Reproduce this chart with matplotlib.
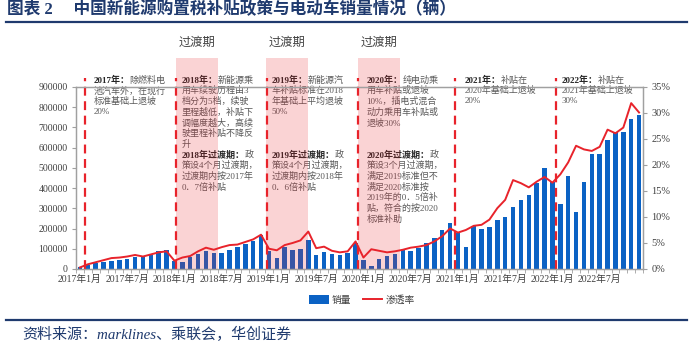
import matplotlib
matplotlib.use('Agg')
import matplotlib.pyplot as plt
import matplotlib.transforms as mtransforms
from matplotlib.patches import Rectangle, Patch
from matplotlib.lines import Line2D
from matplotlib.ticker import FuncFormatter, MultipleLocator

FONT = ['Liberation Serif', 'Noto Sans CJK SC', 'DejaVu Sans']
plt.rcParams['font.family'] = FONT

# ---------------- data ----------------
years = [2017, 2018, 2019, 2020, 2021, 2022]
months = [f"{y}年{m}月" for y in years for m in range(1, 13)]

sales = [
    9000, 20000, 28000, 33000, 42000, 45000, 48000, 58000, 62000, 70000, 90000, 95000,          # 2017
    40000, 35000, 57000, 73000, 87000, 78000, 77000, 93000, 108000, 122000, 138000, 168000,     # 2018
    90000, 53000, 110000, 95000, 100000, 142000, 70000, 83000, 75000, 70000, 79000, 131000,     # 2019
    46000, 15000, 51000, 65000, 75000, 95000, 91000, 106000, 128000, 153000, 191000, 227000,    # 2020
    177000, 111000, 211000, 197000, 207000, 244000, 257000, 307000, 343000, 368000, 426000, 498000,  # 2021
    430000, 321000, 460000, 282000, 428000, 568000, 568000, 638000, 675000, 679000, 741000, 764000,  # 2022
]
rate = [
    0.3, 0.9, 1.3, 1.7, 2.1, 2.2, 2.4, 2.7, 2.4, 2.8, 3.2, 3.4,
    1.6, 2.2, 2.5, 3.4, 4.1, 3.7, 4.2, 4.6, 4.7, 5.2, 5.7, 6.6,
    3.9, 3.6, 4.6, 5.0, 5.5, 7.2, 4.0, 4.3, 3.5, 3.2, 3.4, 5.3,
    2.2, 3.8, 3.5, 3.2, 3.4, 3.7, 4.1, 4.3, 4.6, 5.3, 6.3, 7.8,
    7.0, 7.5, 8.3, 8.5, 9.5, 11.7, 13.3, 17.1, 16.5, 15.7, 16.8, 17.7,
    16.6, 18.2, 20.5, 23.7, 23.0, 22.7, 23.5, 26.8, 26.1, 27.2, 31.9, 30.1,
]
tick_idx = [0, 6, 12, 18, 24, 30, 36, 42, 48, 54, 60, 66]

# policy divider positions (category units) and transition bands
dividers = [0.65, 12.17, 23.72, 35.35, 47.63, 60.46]
bands = [(12.17, 17.5), (23.63, 29.0), (35.35, 40.65)]
band_label = "过渡期"

notes = [
    (93.3, [[("2017年：", True), ("除燃料电", False)], "池汽车外，在现行", "标准基础上退坡", "20%"]),
    (181.7, [[("2018年：", True), ("新能源乘", False)], "用车续驶历程由3", "档分为5档，续驶",
             "里程越低，补贴下", "调幅度越大，高续", "驶里程补贴不降反", "升",
             [("2018年过渡期：", True), ("政", False)], "策设4个月过渡期，", "过渡期内按2017年", "0．7倍补贴"]),
    (271.7, [[("2019年：", True), ("新能源汽", False)], "车补贴标准在2018", "年基础上平均退坡", "50%",
             "", "", "",
             [("2019年过渡期：", True), ("政", False)], "策设4个月过渡期，", "过渡期内按2018年", "0．6倍补贴"]),
    (366.7, [[("2020年：", True), ("纯电动乘", False)], "用车补贴或退坡", "10%，插电式混合",
             "动力乘用车补贴或", "退坡30%", "", "",
             [("2020年过渡期：", True), ("政", False)], "策设3个月过渡期，", "满足2019标准但不",
             "满足2020标准按", "2019年的0．5倍补", "贴，符合的按2020", "标准补助"]),
    (464.5, [[("2021年：", True), ("补贴在", False)], "2020年基础上退坡", "20%"]),
    (561.7, [[("2022年：", True), ("补贴在", False)], "2021年基础上退坡", "30%"]),
]

title = "图表 2　 中国新能源购置税补贴政策与电动车销量情况（辆）"
source = "资料来源：marklines、乘联会，华创证券"
legend_labels = ['销量', '渗透率']

# ---------------- figure ----------------
W, H = 693, 344
fig = plt.figure(figsize=(W / 100, H / 100), dpi=100)
L, R, T, B = 76, 643, 87, 269
ax = fig.add_axes([L / W, 1 - B / H, (R - L) / W, (B - T) / H])
ax2 = ax.twinx()

BLUE = '#0B62C4'
RED = '#E8232B'
GRAY = '#A0A0A0'
TXT = '#404040'
NAVY = '#1F3A6E'

x = list(range(len(months)))
ax.bar(x, sales, width=0.56, color=BLUE, zorder=2)
ax.set_xlim(-0.5, len(months) - 0.5)
ax.set_ylim(0, 900000)
ax.yaxis.set_major_locator(MultipleLocator(100000))
ax.yaxis.set_major_formatter(FuncFormatter(lambda v, p: f"{int(v)}"))

ax2.plot(x, rate, color=RED, lw=1.4, zorder=5)
ax2.set_ylim(0, 35)
ax2.yaxis.set_major_locator(MultipleLocator(5))
ax2.yaxis.set_major_formatter(FuncFormatter(lambda v, p: f"{int(round(v))}%"))

for a in (ax, ax2):
    for s in a.spines.values():
        s.set_color(GRAY)
        s.set_linewidth(0.9)
ax.tick_params(axis='y', direction='out', length=3, color=GRAY, labelsize=7, labelcolor=TXT, pad=3)
ax2.tick_params(axis='y', direction='out', length=3, color=GRAY, labelsize=7.5, labelcolor=TXT, pad=3)

ax.set_xticks([i - 0.5 for i in range(len(months) + 1)], minor=True)
ax.set_xticks(tick_idx)
ax.set_xticklabels([months[i] for i in tick_idx])
ax.tick_params(axis='x', which='major', length=0, labelsize=7, labelcolor=TXT, pad=4)
ax.tick_params(axis='x', which='minor', length=3, color=GRAY, direction='out')

trans = mtransforms.blended_transform_factory(ax.transData, ax.transAxes)
band_top = (B - 57.7) / (B - T)
for (b0, b1) in bands:
    ax.add_patch(Rectangle((b0, 0), b1 - b0, band_top, transform=trans,
                           facecolor=RED, alpha=0.2, edgecolor='none', zorder=3, clip_on=False))
div_top = (B - 78) / (B - T)
for d in dividers:
    ax.add_line(Line2D([d, d], [0, div_top], transform=trans, color=RED, lw=1.6,
                       dashes=(4, 2.5), zorder=4, clip_on=False))

fig.canvas.draw()
# band labels
for (b0, b1) in bands:
    cx = ax.transData.transform(((b0 + b1) / 2, 0))[0]
    fig.text(cx / W, 1 - 43 / H, band_label, ha='center', va='center',
             fontsize=8.8, color=TXT)

# annotation text (drawn inside the bar axes, beneath the translucent bands)
renderer = fig.canvas.get_renderer()
PITCH = 10.7
for (x0, lines) in notes:
    for k, ln in enumerate(lines):
        if ln == "":
            continue
        parts = ln if isinstance(ln, list) else [(ln, False)]
        xx = x0
        yy = 1 - (80 + k * PITCH) / H
        for (txt, bold) in parts:
            t = ax.text(xx / W, yy, txt, ha='left', va='center', fontsize=6.5,
                        color='#262626' if bold else '#595959',
                        fontweight='bold' if bold else 'normal',
                        transform=fig.transFigure, zorder=2.5, clip_on=False)
            bb = t.get_window_extent(renderer)
            xx += bb.width

# legend
handles = [Patch(facecolor=BLUE, edgecolor='none', label=legend_labels[0]),
           Line2D([0], [0], color=RED, lw=1.4, label=legend_labels[1])]
fig.legend(handles=handles, loc='center', bbox_to_anchor=(362 / W, 1 - 300 / H), ncol=2,
           frameon=False, fontsize=7, handlelength=2.0, handleheight=0.9, columnspacing=1.2,
           handletextpad=0.3, labelcolor=TXT)

# title and footer
fig.text(7 / W, 1 - 10 / H, title, ha='left', va='center',
         fontsize=12, fontweight='bold', color=NAVY)
fig.add_artist(Line2D([6 / W, 687 / W], [1 - 22 / H, 1 - 22 / H], transform=fig.transFigure,
                      color=NAVY, lw=1.6))
fig.add_artist(Line2D([6 / W, 687 / W], [1 - 320 / H, 1 - 320 / H], transform=fig.transFigure,
                      color=NAVY, lw=1.6))
fig.text(22 / W, 1 - 334 / H, source, ha='left', va='center',
         fontsize=10.8, style='italic', color=NAVY)

fig.savefig('out.png', dpi=100)
